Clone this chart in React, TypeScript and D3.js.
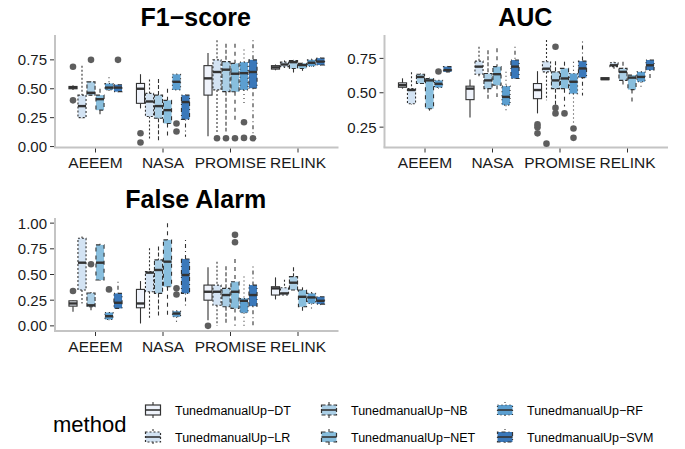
import React from "react";
import * as d3 from "d3";

const categories = ["AEEEM", "NASA", "PROMISE", "RELINK"];
const methods = [
  "TunedmanualUp−DT",
  "TunedmanualUp−LR",
  "TunedmanualUp−NB",
  "TunedmanualUp−NET",
  "TunedmanualUp−RF",
  "TunedmanualUp−SVM",
];
const fills = ["#EFF3FB", "#D3E3F3", "#ABCFE6", "#88BEDD", "#5C9FD0", "#3A78BA"];
const dashes = ["", "2,2", "4,2", "4,4", "1,3", "1,3,4,3"];

// [lower whisker, q1, median, q3, upper whisker] per category (AEEEM, NASA, PROMISE, RELINK)
const f1DT = [[0.49, 0.5, 0.51, 0.52, 0.53], [0.33, 0.374, 0.5, 0.546, 0.626], [0.09, 0.445, 0.59, 0.7, 0.81], [0.66, 0.67, 0.685, 0.7, 0.71]];
const f1LR = [[0.245, 0.25, 0.35, 0.445, 0.7], [0.06, 0.26, 0.39, 0.46, 0.58], [0.12, 0.49, 0.645, 0.75, 0.92], [0.68, 0.69, 0.71, 0.73, 0.745]];
const f1NB = [[0.44, 0.445, 0.465, 0.56, 0.565], [0.055, 0.245, 0.35, 0.445, 0.585], [0.13, 0.475, 0.665, 0.735, 0.89], [0.625, 0.675, 0.73, 0.745, 0.75]];
const f1NET = [[0.26, 0.315, 0.41, 0.445, 0.5], [0.085, 0.2, 0.315, 0.4, 0.5], [0.23, 0.474, 0.63, 0.72, 0.89], [0.655, 0.675, 0.705, 0.72, 0.725]];
const f1RF = [[0.48, 0.49, 0.51, 0.545, 0.6], [0.49, 0.49, 0.56, 0.625, 0.63], [0.35, 0.49, 0.635, 0.73, 0.84], [0.69, 0.695, 0.725, 0.75, 0.76]];
const f1SVM = [[0.47, 0.475, 0.51, 0.535, 0.54], [0.085, 0.235, 0.385, 0.445, 0.45], [0.09, 0.505, 0.645, 0.75, 0.92], [0.7, 0.705, 0.735, 0.765, 0.77]];
const f1Outliers = [
  [[0.69, 0.4], [0.115, 0.035], [], []],
  [[], [], [0.072], []],
  [[0.75], [], [0.072], []],
  [[], [], [0.072], []],
  [[], [0.2, 0.13], [0.21, 0.075], []],
  [[0.75], [], [0.072], []],
];

const aucDT = [[0.53, 0.54, 0.555, 0.572, 0.605], [0.32, 0.45, 0.53, 0.548, 0.596], [0.35, 0.457, 0.52, 0.567, 0.657], [0.595, 0.595, 0.6, 0.61, 0.61]];
const aucLR = [[0.415, 0.42, 0.52, 0.53, 0.65], [0.62, 0.635, 0.69, 0.73, 0.835], [0.445, 0.652, 0.675, 0.726, 0.884], [0.66, 0.69, 0.7, 0.718, 0.725]];
const aucNB = [[0.565, 0.567, 0.615, 0.635, 0.64], [0.445, 0.53, 0.59, 0.64, 0.81], [0.41, 0.53, 0.59, 0.652, 0.73], [0.555, 0.59, 0.652, 0.677, 0.726]];
const aucNET = [[0.37, 0.384, 0.59, 0.604, 0.61], [0.47, 0.555, 0.635, 0.69, 0.823], [0.4, 0.53, 0.604, 0.677, 0.726], [0.43, 0.523, 0.61, 0.628, 0.63]];
const aucRF = [[0.53, 0.538, 0.565, 0.59, 0.59], [0.36, 0.41, 0.47, 0.548, 0.652], [0.275, 0.494, 0.58, 0.64, 0.726], [0.53, 0.58, 0.615, 0.652, 0.655]];
const aucSVM = [[0.65, 0.652, 0.665, 0.69, 0.695], [0.6, 0.604, 0.69, 0.738, 0.835], [0.48, 0.61, 0.677, 0.73, 0.872], [0.6, 0.665, 0.7, 0.738, 0.74]];
const aucOutliers = [
  [[], [], [0.27, 0.25, 0.205], []],
  [[], [], [0.13], []],
  [[], [], [0.39, 0.35, 0.835], []],
  [[], [], [0.35], []],
  [[0.655], [], [0.24, 0.172], []],
  [[], [], [], []],
];

const faDT = [[0.137, 0.192, 0.218, 0.244, 0.25], [0.023, 0.176, 0.218, 0.355, 0.436], [0.055, 0.25, 0.332, 0.397, 0.57], [0.257, 0.3, 0.365, 0.381, 0.472]];
const faLR = [[0.218, 0.349, 0.615, 0.853, 0.87], [0.072, 0.332, 0.518, 0.528, 0.756], [0.0, 0.2, 0.332, 0.397, 0.625], [0.3, 0.3, 0.316, 0.371, 0.45]];
const faNB = [[0.153, 0.186, 0.2, 0.32, 0.33], [0.088, 0.316, 0.544, 0.642, 0.772], [0.016, 0.186, 0.3, 0.365, 0.58], [0.349, 0.349, 0.42, 0.479, 0.57]];
const faNET = [[0.44, 0.446, 0.615, 0.788, 0.8], [0.072, 0.381, 0.625, 0.837, 1.0], [0.0, 0.17, 0.332, 0.43, 0.65], [0.12, 0.186, 0.283, 0.349, 0.375]];
const faRF = [[0.055, 0.062, 0.094, 0.13, 0.135], [0.016, 0.088, 0.12, 0.143, 0.15], [0.0, 0.127, 0.244, 0.267, 0.48], [0.17, 0.218, 0.277, 0.316, 0.33]];
const faSVM = [[0.17, 0.17, 0.225, 0.316, 0.43], [0.17, 0.316, 0.495, 0.651, 0.837], [0.0, 0.192, 0.3, 0.397, 0.577], [0.2, 0.212, 0.244, 0.283, 0.29]];
const faOutliers = [
  [[0.339], [], [0.0], []],
  [[], [], [], []],
  [[0.6], [], [], []],
  [[], [], [0.886, 0.814], []],
  [[0.355], [0.365, 0.306], [], []],
  [[], [], [], []],
];

const f1Ticks = [0, 0.25, 0.5, 0.75];
const aucTicks = [0.25, 0.5, 0.75];
const faTicks = [0, 0.25, 0.5, 0.75, 1];

const FONT = "'Liberation Sans', Arial, Helvetica, sans-serif";
const AXIS_GREY = "#C4C4C4";
const INK = "#333333";

type PanelCfg = {
  title: string;
  stats: number[][][];
  outliers: number[][][];
  domain: [number, number];
  ticks: number[];
  left: number;
  top: number;
  bottom: number;
  width: number;
  titleY: number;
};

const panels: PanelCfg[] = [
  { title: "F1−score", stats: [f1DT, f1LR, f1NB, f1NET, f1RF, f1SVM], outliers: f1Outliers, domain: [-0.008, 0.965], ticks: f1Ticks, left: 55, top: 35, bottom: 147.5, width: 283.5, titleY: 26 },
  { title: "AUC", stats: [aucDT, aucLR, aucNB, aucNET, aucRF, aucSVM], outliers: aucOutliers, domain: [0.102, 0.92], ticks: aucTicks, left: 384.5, top: 35, bottom: 147.5, width: 283.5, titleY: 26 },
  { title: "False Alarm", stats: [faDT, faLR, faNB, faNET, faRF, faSVM], outliers: faOutliers, domain: [-0.05, 1.05], ticks: faTicks, left: 55, top: 218, bottom: 331, width: 283.5, titleY: 208 },
];

function Panel({ p }: { p: PanelCfg }) {
  const x = d3.scaleBand().domain(categories).range([p.left, p.left + p.width]).paddingInner(0).paddingOuter(0.1);
  const step = x.bandwidth();
  const sub = d3.scaleBand().domain(methods).range([-0.4 * step, 0.4 * step]);
  const bw = sub.bandwidth() * 0.9;
  const y = d3.scaleLinear().domain(p.domain).range([p.bottom, p.top]);
  const cx = (c: string) => (x(c) as number) + step / 2;
  return (
    <g>
      <text x={p.left + p.width / 2 - 1} y={p.titleY} textAnchor="middle" fontSize={25} fontWeight="bold" fontFamily={FONT} fill="#000">
        {p.title}
      </text>
      <line x1={p.left} x2={p.left} y1={p.top} y2={p.bottom} stroke={AXIS_GREY} strokeWidth={2} />
      <line x1={p.left - 1} x2={p.left + p.width} y1={p.bottom} y2={p.bottom} stroke={AXIS_GREY} strokeWidth={2} />
      {p.ticks.map((t) => (
        <g key={t}>
          <line x1={p.left - 5} x2={p.left - 1} y1={y(t)} y2={y(t)} stroke={INK} strokeWidth={1} />
          <text x={p.left - 8} y={y(t)} dy="0.36em" textAnchor="end" fontSize={15} fontFamily={FONT} fill="#1a1a1a">
            {d3.format(".2f")(t)}
          </text>
        </g>
      ))}
      {categories.map((c) => (
        <g key={c}>
          <line x1={cx(c)} x2={cx(c)} y1={p.bottom + 1} y2={p.bottom + 5} stroke={INK} strokeWidth={1} />
          <text x={cx(c)} y={p.bottom + 20.5} textAnchor="middle" fontSize={15.5} fontFamily={FONT} fill="#1a1a1a">
            {c}
          </text>
        </g>
      ))}
      {methods.map((m, mi) =>
        categories.map((c, ci) => {
          const [lo, q1, med, q3, hi] = p.stats[mi][ci];
          const xc = cx(c) + (sub(m) as number) + sub.bandwidth() / 2;
          const dash = dashes[mi] || undefined;
          return (
            <g key={m + c}>
              <line x1={xc} x2={xc} y1={y(hi)} y2={y(q3)} stroke={INK} strokeWidth={1.1} strokeDasharray={dash} />
              <line x1={xc} x2={xc} y1={y(q1)} y2={y(lo)} stroke={INK} strokeWidth={1.1} strokeDasharray={dash} />
              <rect x={xc - bw / 2} y={y(q3)} width={bw} height={Math.max(0.5, y(q1) - y(q3))} fill={fills[mi]} stroke={INK} strokeWidth={1.1} strokeDasharray={dash} />
              <line x1={xc - bw / 2} x2={xc + bw / 2} y1={y(med)} y2={y(med)} stroke={INK} strokeWidth={2.4} />
              {p.outliers[mi][ci].map((o, oi) => (
                <circle key={oi} cx={xc} cy={y(o)} r={3.3} fill="#5E5E5E" />
              ))}
            </g>
          );
        })
      )}
    </g>
  );
}

function LegendKey({ mi, x0, y0 }: { mi: number; x0: number; y0: number }) {
  const s = 20;
  const dash = dashes[mi] || undefined;
  const xc = x0 + s / 2;
  return (
    <g>
      <line x1={xc} x2={xc} y1={y0 + s * 0.1} y2={y0 + s * 0.25} stroke={INK} strokeWidth={1.1} strokeDasharray={dash} />
      <line x1={xc} x2={xc} y1={y0 + s * 0.75} y2={y0 + s * 0.9} stroke={INK} strokeWidth={1.1} strokeDasharray={dash} />
      <rect x={x0 + s * 0.125} y={y0 + s * 0.25} width={s * 0.75} height={s * 0.5} fill={fills[mi]} stroke={INK} strokeWidth={1.2} strokeDasharray={dash} />
      <line x1={x0 + s * 0.125} x2={x0 + s * 0.875} y1={y0 + s * 0.5} y2={y0 + s * 0.5} stroke={INK} strokeWidth={1.6} />
    </g>
  );
}

const legendCols = [143, 319, 495];
const legendRows = [400, 427];

export default function App() {
  return (
    <svg width={685} height={449} style={{ position: "absolute", left: 0, top: 0, background: "#fff" }}>
      <rect width={685} height={449} fill="#fff" />
      {panels.map((p) => (
        <Panel key={p.title} p={p} />
      ))}
      <text x={53} y={432} fontSize={22} fontFamily={FONT} fill="#000">method</text>
      {methods.map((m, mi) => {
        const col = Math.floor(mi / 2);
        const row = mi % 2;
        const x0 = legendCols[col];
        const y0 = legendRows[row];
        return (
          <g key={m}>
            <LegendKey mi={mi} x0={x0} y0={y0} />
            <text x={x0 + 32} y={y0 + 10} dy="0.36em" fontSize={12.5} fontFamily={FONT} fill="#000">{m}</text>
          </g>
        );
      })}
    </svg>
  );
}
